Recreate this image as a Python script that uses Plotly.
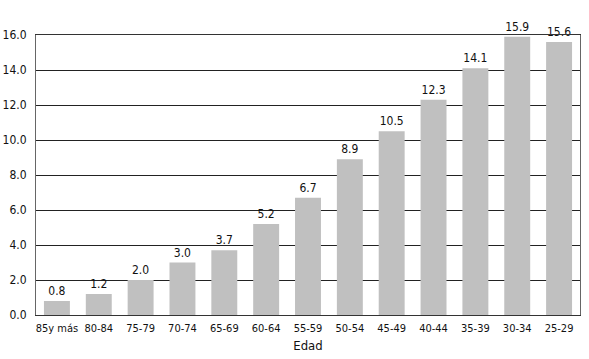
import plotly.graph_objects as go

categories = ["85y más", "80-84", "75-79", "70-74", "65-69", "60-64", "55-59",
              "50-54", "45-49", "40-44", "35-39", "30-34", "25-29"]
values = [0.8, 1.2, 2.0, 3.0, 3.7, 5.2, 6.7, 8.9, 10.5, 12.3, 14.1, 15.9, 15.6]
tick_vals = [0, 2, 4, 6, 8, 10, 12, 14, 16]
tick_text = ["0.0", "2.0", "4.0", "6.0", "8.0", "10.0", "12.0", "14.0", "16.0"]
labels = [f"{v:.1f}" for v in values]

font_family = "DejaVu Sans Condensed, Liberation Sans, sans-serif"

fig = go.Figure(go.Bar(
    x=categories, y=values, text=labels, textposition="outside",
    marker=dict(color="#c0c0c0", line=dict(width=0)),
    textfont=dict(size=12, color="#111111", family=font_family),
    cliponaxis=False, width=0.62,
))

fig.update_layout(
    width=589, height=359,
    margin=dict(l=36, r=9, t=35, b=44),
    paper_bgcolor="white", plot_bgcolor="white",
    showlegend=False,
    font=dict(family=font_family, size=12, color="#111111"),
    xaxis=dict(
        title=dict(text="Edad", standoff=6, font=dict(size=13)),
        tickfont=dict(size=11),
        showgrid=False, showline=True, linecolor="#333333", linewidth=1,
        mirror=True, ticks="outside", ticklen=3, tickcolor="rgba(0,0,0,0)",
        automargin=False,
    ),
    yaxis=dict(
        range=[0, 16], tickvals=tick_vals, ticktext=tick_text,
        tickfont=dict(size=12),
        showgrid=True, gridcolor="#222222", gridwidth=1,
        showline=True, linecolor="#666666", linewidth=1, mirror=True,
        ticks="outside", ticklen=6, tickcolor="rgba(0,0,0,0)",
        zeroline=False, automargin=False,
    ),
)

fig.write_html(
    "out.html",
    config={"displayModeBar": False},
    post_script="document.body.style.margin='0';document.body.style.padding='0';",
)
